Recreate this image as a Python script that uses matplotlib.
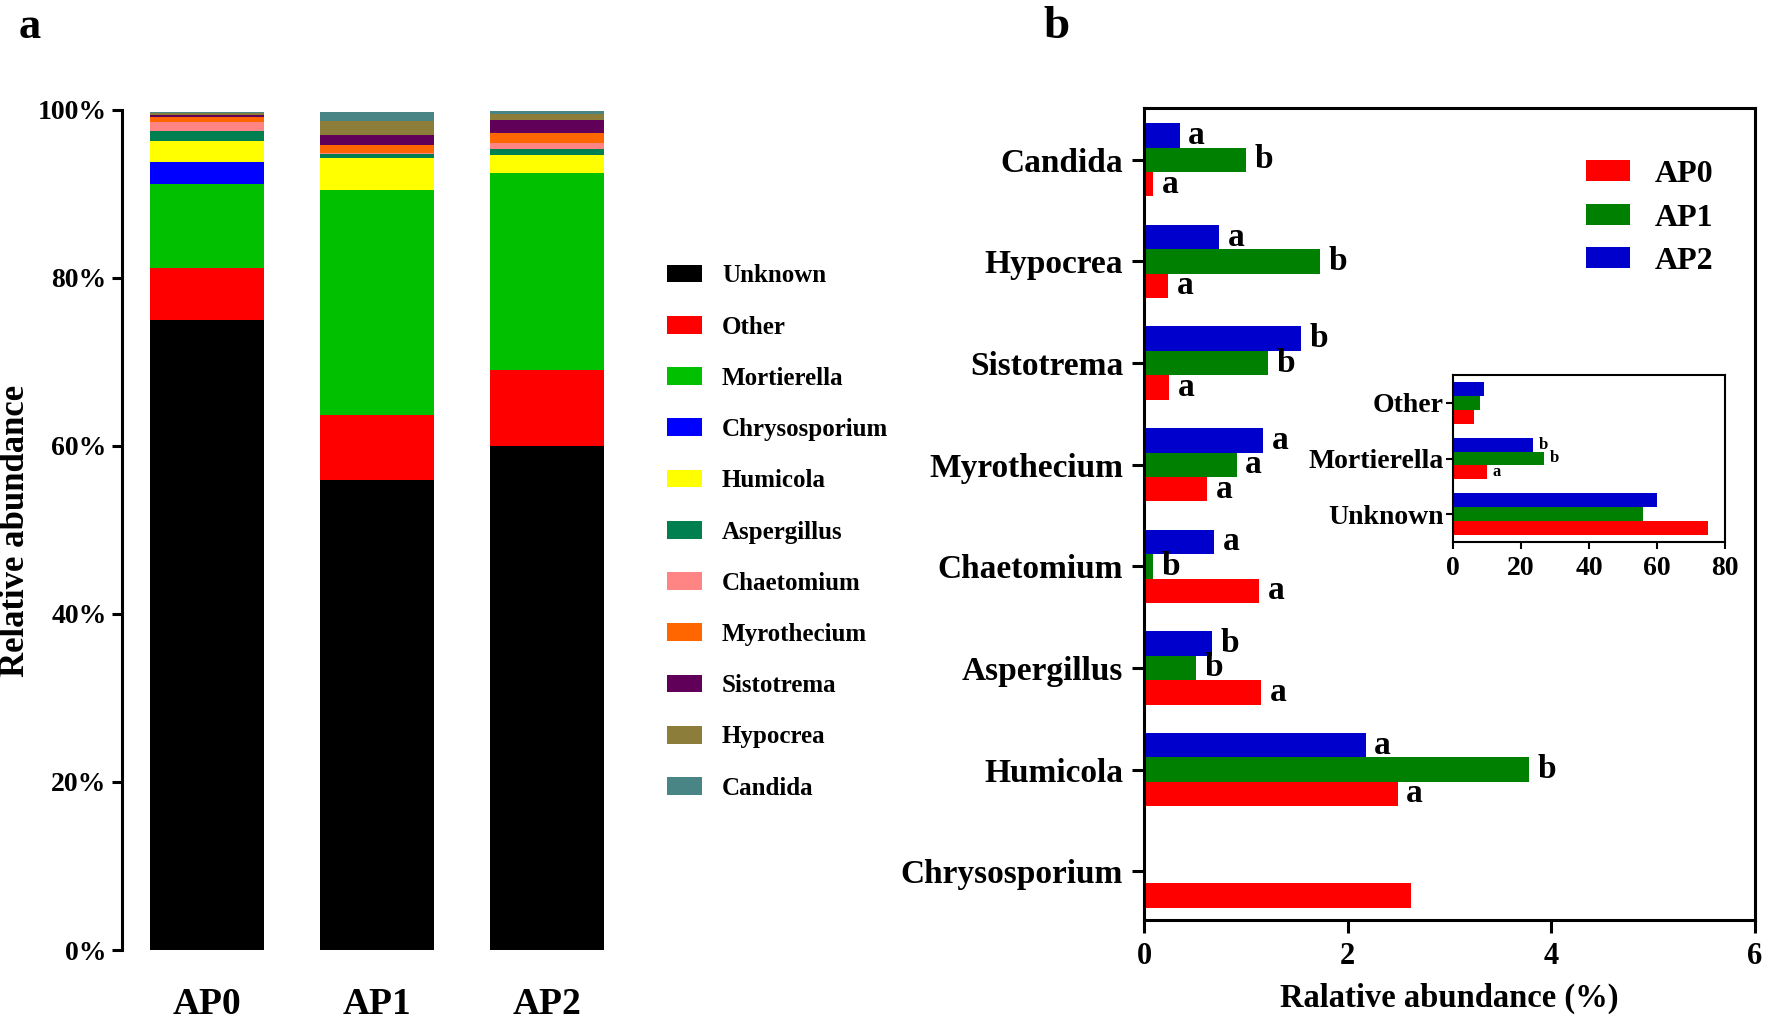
import matplotlib
matplotlib.use("Agg")
import matplotlib.pyplot as plt
from matplotlib.patches import Patch
import numpy as np

plt.rcParams["font.family"] = ["Liberation Serif", "DejaVu Serif"]
plt.rcParams["font.weight"] = "bold"

groups = ["AP0", "AP1", "AP2"]

# panel a: relative abundance (%) per genus, stacked bottom to top
genera_a = ["Unknown", "Other", "Mortierella", "Chrysosporium", "Humicola", "Aspergillus",
            "Chaetomium", "Myrothecium", "Sistotrema", "Hypocrea", "Candida"]
colors_a = ["#000000", "#FF0000", "#00C000", "#0000FF", "#FFFF00", "#008050",
            "#FF8585", "#FF6600", "#600058", "#8C7E3A", "#4A8585"]

unknown = [75.0, 55.9, 60.0]
other = [6.2, 7.8, 9.0]
mortierella = [10.0, 26.8, 23.5]

# panel b: relative abundance (%) of minor genera, values for AP0, AP1, AP2
chrysosporium = [2.62, 0.0, 0.0]
humicola = [2.49, 3.78, 2.18]
aspergillus = [1.15, 0.51, 0.67]
chaetomium = [1.13, 0.09, 0.69]
myrothecium = [0.62, 0.91, 1.17]
sistotrema = [0.25, 1.22, 1.54]
hypocrea = [0.24, 1.73, 0.74]
candida = [0.09, 1.00, 0.35]

genera_b = ["Chrysosporium", "Humicola", "Aspergillus", "Chaetomium",
            "Myrothecium", "Sistotrema", "Hypocrea", "Candida"]
values_b = [chrysosporium, humicola, aspergillus, chaetomium,
            myrothecium, sistotrema, hypocrea, candida]
letters_b = [["", "", ""], ["a", "b", "a"], ["a", "b", "b"], ["a", "b", "a"],
             ["a", "a", "a"], ["a", "b", "b"], ["a", "b", "a"], ["a", "b", "a"]]

# inset: major groups
genera_in = ["Unknown", "Mortierella", "Other"]
values_in = [unknown, mortierella, other]
letters_in = [["", "", ""], ["a", "b", "b"], ["", "", ""]]

group_colors = ["#FF0000", "#008000", "#0000CC"]

stack_a = {
    "Unknown": unknown, "Other": other, "Mortierella": mortierella,
    "Chrysosporium": chrysosporium, "Humicola": humicola, "Aspergillus": aspergillus,
    "Chaetomium": chaetomium, "Myrothecium": myrothecium, "Sistotrema": sistotrema,
    "Hypocrea": hypocrea, "Candida": candida,
}

W, H = 1772, 1023
fig = plt.figure(figsize=(W / 100, H / 100), dpi=100)


def box(l, t, r, b):
    return [l / W, 1 - b / H, (r - l) / W, (b - t) / H]


# ---------- panel a ----------
ax = fig.add_axes(box(122, 110, 632, 950))
x = np.arange(len(groups))
bottom = np.zeros(len(groups))
for name, col in zip(genera_a, colors_a):
    vals = np.array(stack_a[name])
    ax.bar(x, vals, 0.665, bottom=bottom, color=col, label=name, edgecolor="none")
    bottom += vals
ax.set_xlim(-0.5, 2.5)
ax.set_ylim(0, 100)
ax.set_yticks([0, 20, 40, 60, 80, 100])
ax.set_yticklabels([f"{v}%" for v in range(0, 101, 20)], fontsize=20)
ax.set_xticks(x)
ax.set_xticklabels(groups, fontsize=27)
ax.tick_params(axis="x", length=0, pad=27)
ax.tick_params(axis="y", length=7, width=2.2, pad=4)
for s in ["top", "right", "bottom"]:
    ax.spines[s].set_visible(False)
ax.spines["left"].set_linewidth(2.2)
fig.text(16 / W, 1 - 531 / H, "Relative abundance", rotation=90, ha="center", va="center",
         fontsize=25, fontweight="bold")
fig.text(30 / W, 1 - 27 / H, "a", ha="center", va="center", fontsize=32, fontweight="bold")

handles = [Patch(facecolor=c, edgecolor="none", label=n) for n, c in zip(genera_a, colors_a)]
fig.legend(handles=handles, loc="center left", bbox_to_anchor=(667 / W, 1 - 532 / H),
           frameon=False, fontsize=18, handlelength=1.4, handleheight=0.72,
           handletextpad=0.8, labelspacing=1.13, borderpad=0, borderaxespad=0)

# ---------- panel b ----------
bx = fig.add_axes(box(1144, 108, 1755, 920))
y = np.arange(len(genera_b))
h = 0.24
for i, g in enumerate(groups):
    vals = [v[i] for v in values_b]
    bx.barh(y + (i - 1) * h, vals, h, color=group_colors[i], label=g, edgecolor="none")
    for yy, v, lt in zip(y, vals, [l[i] for l in letters_b]):
        if lt:
            bx.annotate(lt, (v, yy + (i - 1) * h), xytext=(6, 0), textcoords="offset points",
                        ha="left", va="center", fontsize=24, fontweight="bold")
bx.set_xlim(0, 6)
bx.set_ylim(-0.48, 7.51)
bx.set_xticks([0, 2, 4, 6])
bx.set_yticks(y)
bx.set_yticklabels(genera_b, fontsize=24)
bx.tick_params(axis="both", length=9, width=2.2, labelsize=22)
bx.tick_params(axis="y", labelsize=24, pad=6)
bx.tick_params(axis="x", pad=7)
for s in bx.spines.values():
    s.set_linewidth(2.2)
bx.set_xlabel("Ralative abundance (%)", fontsize=23.5, fontweight="bold", labelpad=8)
fig.text(1057 / W, 1 - 27 / H, "b", ha="center", va="center", fontsize=34, fontweight="bold")

hb, lb = bx.get_legend_handles_labels()
bx.legend(hb, lb, loc="center left", bbox_to_anchor=(1586 / W, 1 - 218 / H),
          bbox_transform=fig.transFigure, frameon=False, fontsize=23,
          handlelength=1.38, handleheight=0.63, handletextpad=0.78,
          labelspacing=0.45, borderpad=0, borderaxespad=0)

# ---------- inset ----------
ix = fig.add_axes(box(1453, 375, 1725, 542))
yi = np.arange(len(genera_in))
hi = 0.25
for i, g in enumerate(groups):
    vals = [v[i] for v in values_in]
    ix.barh(yi + (i - 1) * hi, vals, hi, color=group_colors[i], edgecolor="none")
    for yy, v, lt in zip(yi, vals, [l[i] for l in letters_in]):
        if lt:
            ix.annotate(lt, (v, yy + (i - 1) * hi), xytext=(4, 0), textcoords="offset points",
                        ha="left", va="center", fontsize=12, fontweight="bold")
ix.set_xlim(0, 80)
ix.set_ylim(-0.5, 2.5)
ix.set_xticks([0, 20, 40, 60, 80])
ix.set_yticks(yi)
ix.set_yticklabels(genera_in, fontsize=20)
ix.tick_params(axis="both", length=5, width=1.5, labelsize=20, pad=2)
ix.tick_params(axis="x", pad=5)
for s in ix.spines.values():
    s.set_linewidth(1.5)

fig.savefig("out.png", dpi=100)
